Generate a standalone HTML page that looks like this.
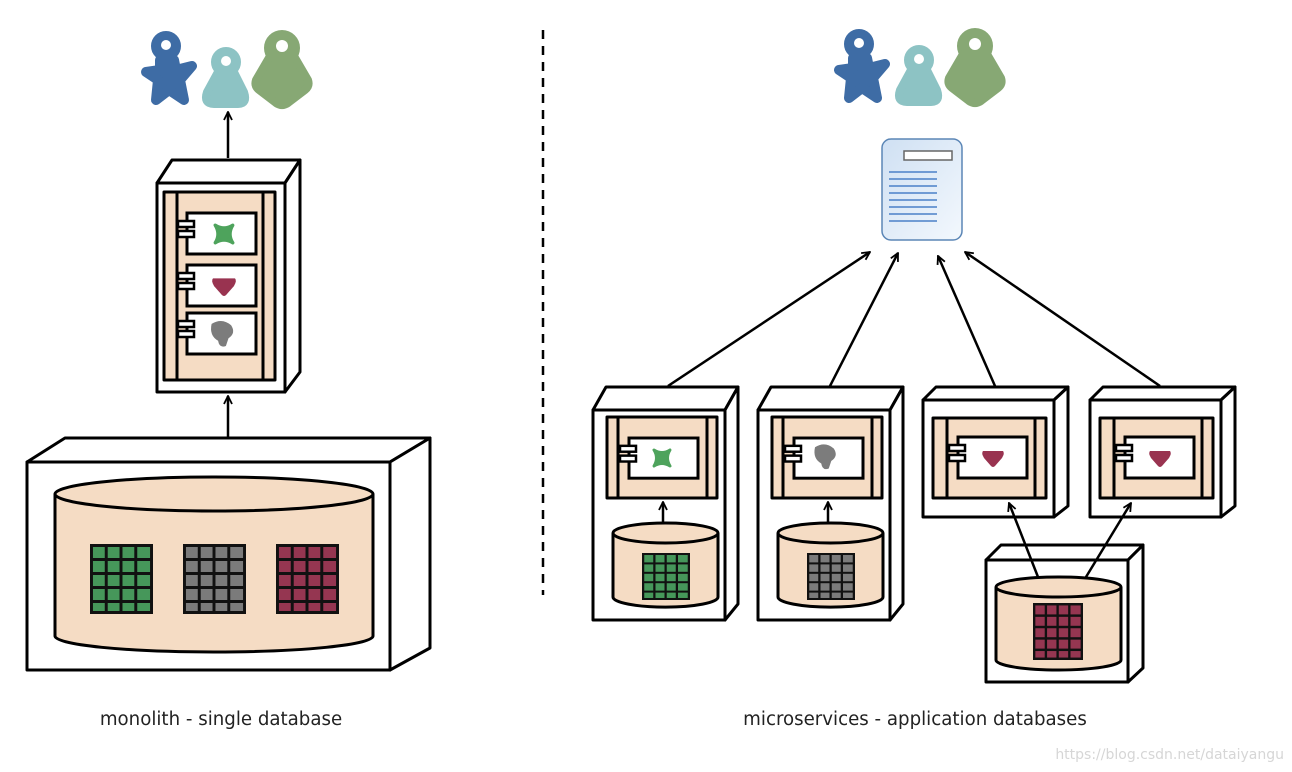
<!DOCTYPE html>
<html><head><meta charset="utf-8"><style>
html,body{margin:0;padding:0;background:#fff;}
svg{display:block;}
text{font-family:"DejaVu Sans","Liberation Sans",sans-serif;}
</style></head><body>
<svg width="1292" height="772" viewBox="0 0 1292 772" xmlns="http://www.w3.org/2000/svg">
<defs>
<marker id="ah" viewBox="0 0 10 10" refX="9" refY="5" markerWidth="10" markerHeight="10" markerUnits="userSpaceOnUse" orient="auto">
<path d="M1,1 L9,5 L1,9" fill="none" stroke="#000" stroke-width="1.8"/>
</marker>
<linearGradient id="doc" x1="0" y1="0" x2="1" y2="1"><stop offset="0" stop-color="#cfe0f3"/><stop offset="1" stop-color="#f3f8fd"/></linearGradient>
<symbol id="grid" viewBox="0 0 64 70" preserveAspectRatio="none">
<rect x="0" y="0" width="64" height="70" fill="#111"/>
<g fill="currentColor">
<rect x="3" y="3" width="12" height="11"/><rect x="18" y="3" width="12" height="11"/><rect x="33" y="3" width="12" height="11"/><rect x="48" y="3" width="13" height="11"/>
<rect x="3" y="17" width="12" height="11"/><rect x="18" y="17" width="12" height="11"/><rect x="33" y="17" width="12" height="11"/><rect x="48" y="17" width="13" height="11"/>
<rect x="3" y="31" width="12" height="11"/><rect x="18" y="31" width="12" height="11"/><rect x="33" y="31" width="12" height="11"/><rect x="48" y="31" width="13" height="11"/>
<rect x="3" y="45" width="12" height="11"/><rect x="18" y="45" width="12" height="11"/><rect x="33" y="45" width="12" height="11"/><rect x="48" y="45" width="13" height="11"/>
<rect x="3" y="59" width="12" height="8"/><rect x="18" y="59" width="12" height="8"/><rect x="33" y="59" width="12" height="8"/><rect x="48" y="59" width="13" height="8"/>
</g>
</symbol>
<g id="people">
<g fill="#3e6ca5" stroke="#3e6ca5" stroke-width="10" stroke-linejoin="round" stroke-linecap="round">
<circle cx="166" cy="46" r="10"/>
<path d="M160,60 L174,60 L176,70 L192,66 L180,80 L184,100 L169,90 L156,100 L158,80 L146,72 L160,70 Z"/>
</g>
<circle cx="166" cy="45" r="5" fill="#fff"/>
<g fill="#8dc3c4" stroke="#8dc3c4" stroke-width="8" stroke-linejoin="round">
<circle cx="226" cy="62" r="11"/>
<path d="M219,70 L233,70 L244,92 Q248,104 238,104 L214,104 Q203,104 207,92 Z"/>
</g>
<circle cx="226" cy="61" r="5" fill="#fff"/>
<g fill="#87a874" stroke="#87a874" stroke-width="8" stroke-linejoin="round">
<circle cx="282" cy="48" r="14"/>
<path d="M270,56 L294,56 L308,80 Q310,86 305,90 L288,103 Q282,107 276,103 L259,90 Q254,86 256,80 Z"/>
</g>
<circle cx="282" cy="46" r="6" fill="#fff"/>
</g>
<g id="comp">
<rect x="0" y="0" width="69" height="41" fill="#fff" stroke="#000" stroke-width="3"/>
<rect x="-9" y="8" width="16" height="6" fill="#fff" stroke="#000" stroke-width="2.5"/>
<rect x="-9" y="18" width="16" height="6" fill="#fff" stroke="#000" stroke-width="2.5"/>
</g>
<path id="xicon" d="M-8,-8 Q0,-3 8,-8 Q3,0 8,8 Q0,3 -8,8 Q-3,0 -8,-8Z" fill="#4ea35c" stroke="#4ea35c" stroke-width="3" stroke-linejoin="round"/>
<path id="heart" d="M-10,-6 L10,-6 Q12,-4 9,1 L2,9 Q0,11 -2,9 L-9,1 Q-12,-4 -10,-6Z" fill="#993350"/>
<path id="blob" d="M-8,-7 Q0,-12 7,-6 Q11,0 5,4 L3,10 Q-2,12 -3,6 Q-10,2 -8,-7Z" fill="#7c7c7c"/>
</defs>

<use href="#people"/>
<use href="#people" transform="translate(693,-2)"/>

<line x1="543" y1="30" x2="543" y2="595" stroke="#000" stroke-width="2.5" stroke-dasharray="9,7"/>

<line x1="228" y1="158" x2="228" y2="112" stroke="#000" stroke-width="2.5" marker-end="url(#ah)"/>
<g stroke="#000" stroke-width="3" stroke-linejoin="round">
<path d="M157,183 L172,160 L300,160 L285,183 Z" fill="#fff"/>
<path d="M285,183 L300,160 L300,372 L285,392 Z" fill="#fff"/>
<rect x="157" y="183" width="128" height="209" fill="#fff"/>
<rect x="164" y="192" width="111" height="188" fill="#f5dcc4"/>
<line x1="177" y1="192" x2="177" y2="380"/>
<line x1="263" y1="192" x2="263" y2="380"/>
</g>
<use href="#comp" transform="translate(187,213)"/>
<use href="#comp" transform="translate(187,265)"/>
<use href="#comp" transform="translate(187,313)"/>
<use href="#xicon" transform="translate(224,234) scale(1.1)"/>
<use href="#heart" transform="translate(224,285) scale(1.1)"/>
<use href="#blob" transform="translate(222,333) scale(1.3)"/>

<line x1="228" y1="438" x2="228" y2="396" stroke="#000" stroke-width="2.5" marker-end="url(#ah)"/>
<g stroke="#000" stroke-width="3" stroke-linejoin="round">
<path d="M27,462 L65,438 L430,438 L390,462 Z" fill="#fff"/>
<path d="M390,462 L430,438 L430,648 L390,670 Z" fill="#fff"/>
<rect x="27" y="462" width="363" height="208" fill="#fff"/>
<path d="M55,494 L55,636 A159,16 0 0 0 373,636 L373,494" fill="#f5dcc4"/>
<ellipse cx="214" cy="494" rx="159" ry="17" fill="#f5dcc4"/>
</g>
<use href="#grid" x="90" y="544" width="63" height="70" style="color:#46975a"/>
<use href="#grid" x="183" y="544" width="63" height="70" style="color:#7b7b7b"/>
<use href="#grid" x="276" y="544" width="63" height="70" style="color:#953651"/>

<text x="221" y="725" font-size="18.2" text-anchor="middle" fill="#222">monolith - single database</text>

<rect x="882" y="139" width="80" height="101" rx="9" fill="url(#doc)" stroke="#5b86b6" stroke-width="1.5"/>
<rect x="904" y="151" width="48" height="9" fill="#fff" stroke="#666" stroke-width="1.5"/>
<g stroke="#4a80c8" stroke-width="1.6">
<line x1="889" y1="172" x2="937" y2="172"/><line x1="889" y1="179" x2="937" y2="179"/><line x1="889" y1="186" x2="937" y2="186"/><line x1="889" y1="193" x2="937" y2="193"/><line x1="889" y1="200" x2="937" y2="200"/><line x1="889" y1="207" x2="937" y2="207"/><line x1="889" y1="214" x2="937" y2="214"/><line x1="889" y1="221" x2="937" y2="221"/>
</g>

<g stroke="#000" stroke-width="2.5" marker-end="url(#ah)">
<line x1="668" y1="386" x2="870" y2="252"/>
<line x1="830" y1="386" x2="898" y2="253"/>
<line x1="995" y1="386" x2="938" y2="256"/>
<line x1="1160" y1="386" x2="965" y2="252"/>
</g>

<g id="ms1">
<g stroke="#000" stroke-width="3" stroke-linejoin="round">
<path d="M593,410 L606,387 L738,387 L725,410 Z" fill="#fff"/>
<path d="M725,410 L738,387 L738,604 L725,620 Z" fill="#fff"/>
<rect x="593" y="410" width="132" height="210" fill="#fff"/>
<rect x="607" y="417" width="110" height="81" fill="#f5dcc4"/>
<line x1="618" y1="417" x2="618" y2="498"/>
<line x1="707" y1="417" x2="707" y2="498"/>
<path d="M613,533 L613,597 A52,10 0 0 0 718,597 L718,533" fill="#f5dcc4"/>
<ellipse cx="665.5" cy="533" rx="52.5" ry="10" fill="#f5dcc4"/>
</g>
<use href="#comp" transform="translate(629,438) scale(1,0.98)"/>
<line x1="663" y1="523" x2="663" y2="502" stroke="#000" stroke-width="2.5" marker-end="url(#ah)"/>
</g>
<use href="#grid" x="642" y="553" width="48" height="47" style="color:#46975a"/>
<use href="#xicon" transform="translate(662,458)"/>
<use href="#ms1" transform="translate(165,0)"/>
<use href="#grid" x="807" y="553" width="48" height="47" style="color:#7b7b7b"/>
<use href="#blob" transform="translate(825,456) scale(1.25)"/>

<g id="ms3">
<g stroke="#000" stroke-width="3" stroke-linejoin="round">
<path d="M923,400 L936,387 L1068,387 L1054,400 Z" fill="#fff"/>
<path d="M1054,400 L1068,387 L1068,506 L1054,517 Z" fill="#fff"/>
<rect x="923" y="400" width="131" height="117" fill="#fff"/>
<rect x="933" y="418" width="113" height="80" fill="#f5dcc4"/>
<line x1="947" y1="418" x2="947" y2="498"/>
<line x1="1035" y1="418" x2="1035" y2="498"/>
</g>
<use href="#comp" transform="translate(958,437)"/>
<use href="#heart" transform="translate(993,457)"/>
</g>
<use href="#ms3" transform="translate(167,0)"/>

<g stroke="#000" stroke-width="3" stroke-linejoin="round">
<path d="M986,560 L1001,545 L1143,545 L1128,560 Z" fill="#fff"/>
<path d="M1128,560 L1143,545 L1143,668 L1128,682 Z" fill="#fff"/>
<rect x="986" y="560" width="142" height="122" fill="#fff"/>
<path d="M996,587 L996,660 A62.5,10 0 0 0 1121,660 L1121,587" fill="#f5dcc4"/>
<ellipse cx="1058.5" cy="587" rx="62.5" ry="10" fill="#f5dcc4"/>
</g>
<use href="#grid" x="1033" y="603" width="50" height="57" style="color:#953651"/>
<g stroke="#000" stroke-width="2.5" marker-end="url(#ah)">
<line x1="1038" y1="577" x2="1009" y2="503"/>
<line x1="1086" y1="577" x2="1131" y2="503"/>
</g>

<text x="915" y="725" font-size="18.2" text-anchor="middle" fill="#222">microservices - application databases</text>
<text x="1284" y="759" font-size="14" text-anchor="end" fill="#d6d6d6" font-family="Liberation Sans, sans-serif">https://blog.csdn.net/dataiyangu</text>
</svg>
</body></html>
